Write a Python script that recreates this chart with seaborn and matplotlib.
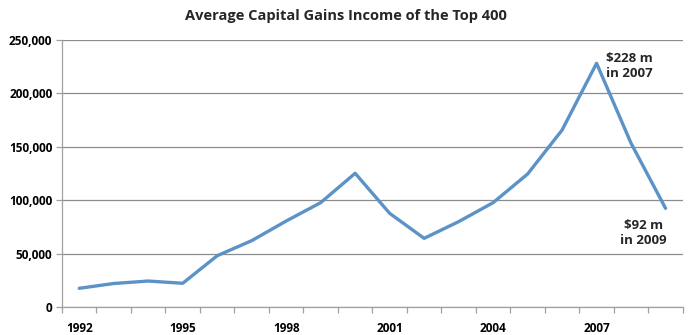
import matplotlib
matplotlib.use("Agg")
import matplotlib.pyplot as plt
import seaborn as sns
import pandas as pd
import numpy as np
from matplotlib.ticker import FuncFormatter, FixedLocator

years = list(range(1992, 2010))
capital_gains = [17500, 22000, 24300, 22200, 48000, 62100, 80500, 97700, 125200,
                 87700, 64300, 79900, 97700, 124500, 165700, 228200, 153300, 92400]
tick_years = [1992, 1995, 1998, 2001, 2004, 2007]
title = "Average Capital Gains Income of the Top 400"
note_peak = "\\$228 m\nin 2007"
note_end = "\\$92 m\nin 2009"

sns.set_theme(style="white")
plt.rcParams['font.family'] = ['Open Sans', 'DejaVu Sans']

df = pd.DataFrame({"pos": np.arange(len(years)), "year": years, "value": capital_gains})

fig = plt.figure(figsize=(6.89, 3.35), dpi=100)
ax = fig.add_axes([0.090, 0.0836, 0.901, 0.797])

sns.lineplot(data=df, x="pos", y="value", ax=ax, color="#5b93c7", linewidth=2.4)

ax.set_xlim(-0.5, len(years) - 0.5)
ax.set_ylim(0, 250000)
ax.set_yticks(np.arange(0, 250001, 50000))
ax.yaxis.set_major_formatter(FuncFormatter(lambda v, p: f"{int(v):,}"))
ax.yaxis.grid(True, color="#8c8c8c", linewidth=0.9)
ax.set_axisbelow(True)

ax.set_xticks([years.index(y) for y in tick_years])
ax.set_xticklabels([str(y) for y in tick_years])
ax.xaxis.set_minor_locator(FixedLocator(np.arange(-0.5, len(years), 1.0)))
ax.tick_params(axis="x", which="major", length=0, pad=11)
ax.tick_params(axis="x", which="minor", length=4, color="#a0a0a0", width=0.9, bottom=True)
ax.tick_params(axis="y", which="major", length=4, color="#a0a0a0", width=0.9, left=True, pad=3)
for lbl in ax.get_xticklabels() + ax.get_yticklabels():
    lbl.set_fontweight("bold")
    lbl.set_fontsize(8.5)
    lbl.set_color("black")

for side in ["top", "right"]:
    ax.spines[side].set_visible(False)
for side in ["left", "bottom"]:
    ax.spines[side].set_color("#a0a0a0")
    ax.spines[side].set_linewidth(0.9)

ax.set_xlabel("")
ax.set_ylabel("")

fig.text(0.502, 0.953, title, ha="center", va="center", fontsize=10.5, fontweight="bold")

i7 = years.index(2007)
ax.annotate(note_peak, xy=(i7, capital_gains[i7]), xytext=(7, -2), textcoords="offset points",
            ha="left", va="center", fontsize=9.5, fontweight="bold", linespacing=1.2)
i9 = years.index(2009)
ax.annotate(note_end, xy=(i9, capital_gains[i9]), xytext=(-16, -18), textcoords="offset points",
            ha="center", va="center", fontsize=9.5, fontweight="bold", linespacing=1.2)

fig.savefig("out.png", dpi=100)
